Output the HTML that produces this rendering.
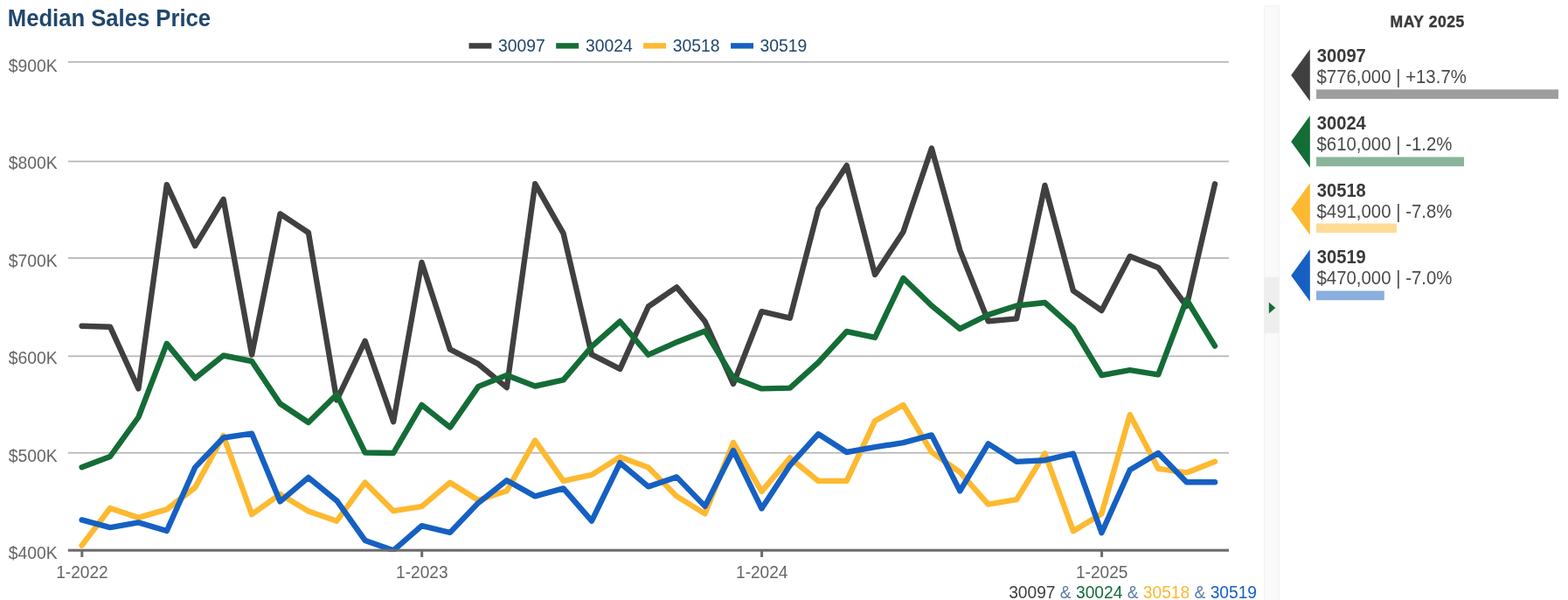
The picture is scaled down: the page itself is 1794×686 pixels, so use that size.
<!DOCTYPE html>
<html lang="en"><head><meta charset="utf-8"><title>Median Sales Price</title>
<style>
html,body{margin:0;padding:0;background:#fff;}
body{width:1794px;height:686px;overflow:hidden;font-family:"Liberation Sans",sans-serif;}
svg{display:block;}
text{font-family:"Liberation Sans",sans-serif;}
.t{font-size:25.65px;font-weight:bold;fill:#21476c;}
.a{font-size:19.35px;fill:#666666;}
.x{font-size:19.1px;fill:#666666;}
.l{font-size:19.35px;fill:#21476c;}
.f{font-size:19.2px;}
.h{font-size:17.6px;font-weight:bold;fill:#3a3a3a;letter-spacing:0.5px;stroke:#3a3a3a;stroke-width:0.35px;}
.n{font-size:20.15px;font-weight:bold;fill:#3a3a3a;}
.v{font-size:20.4px;fill:#4a4a4a;}
.s{fill:none;stroke-width:6.4;stroke-linejoin:round;stroke-linecap:round;}
</style></head><body>
<svg width="1794" height="686" viewBox="0 0 1794 686">
<defs><clipPath id="plot"><rect x="78" y="60" width="1330" height="570.7"/></clipPath></defs>
<text class="t" transform="translate(8.80,29.90) scale(1,1.05)">Median Sales Price</text>
<rect x="78" y="69.95" width="1328" height="1.8" fill="#b9b9b9"/>
<rect x="78" y="183.66" width="1328" height="1.8" fill="#b9b9b9"/>
<rect x="78" y="294.16" width="1328" height="1.8" fill="#b9b9b9"/>
<rect x="78" y="406.36" width="1328" height="1.8" fill="#b9b9b9"/>
<rect x="78" y="516.87" width="1328" height="1.8" fill="#b9b9b9"/>
<text class="a" transform="translate(9.70,81.90) scale(1,1.09)">$900K</text>
<text class="a" transform="translate(9.70,192.80) scale(1,1.09)">$800K</text>
<text class="a" transform="translate(9.70,304.80) scale(1,1.09)">$700K</text>
<text class="a" transform="translate(9.70,415.90) scale(1,1.09)">$600K</text>
<text class="a" transform="translate(9.70,528.00) scale(1,1.09)">$500K</text>
<text class="a" transform="translate(9.70,638.90) scale(1,1.09)">$400K</text>
<g clip-path="url(#plot)">
<polyline class="s" stroke="#404040" points="93.6,372.7 126.0,373.7 158.4,444.4 190.8,211.1 223.2,281.1 255.6,227.8 288.1,405.7 320.5,244.5 352.9,266.0 385.3,457.4 417.7,389.9 450.1,482.3 482.5,300.0 514.9,399.4 547.3,416.2 579.8,443.1 612.2,210.2 644.6,266.9 677.0,405.4 709.4,421.9 741.8,350.5 774.2,328.4 806.6,367.5 839.0,438.9 871.4,356.2 903.8,363.7 936.3,238.7 968.7,189.2 1001.1,314.1 1033.5,264.9 1065.9,169.5 1098.3,286.1 1130.7,367.2 1163.1,364.4 1195.5,212.0 1227.9,332.4 1260.4,355.0 1292.8,293.0 1325.2,306.0 1357.6,350.0 1390.0,210.3"/>
<polyline class="s" stroke="#146c36" points="93.6,534.2 126.0,522.0 158.4,477.0 190.8,392.9 223.2,432.4 255.6,406.5 288.1,413.0 320.5,461.5 352.9,483.0 385.3,450.9 417.7,517.5 450.1,518.0 482.5,462.9 514.9,488.6 547.3,441.9 579.8,429.0 612.2,441.5 644.6,434.4 677.0,396.2 709.4,367.5 741.8,405.7 774.2,391.2 806.6,378.4 839.0,431.9 871.4,444.4 903.8,443.6 936.3,414.4 968.7,379.0 1001.1,385.9 1033.5,318.0 1065.9,349.5 1098.3,375.9 1130.7,359.9 1163.1,349.5 1195.5,346.0 1227.9,374.9 1260.4,429.0 1292.8,423.2 1325.2,428.3 1357.6,342.5 1390.0,395.6"/>
<polyline class="s" stroke="#fdb930" points="93.6,623.6 126.0,581.0 158.4,591.9 190.8,582.4 223.2,557.4 255.6,498.0 288.1,588.1 320.5,565.0 352.9,584.4 385.3,595.7 417.7,551.7 450.1,584.2 482.5,579.1 514.9,551.7 547.3,572.0 579.8,561.2 612.2,503.5 644.6,549.9 677.0,542.9 709.4,522.5 741.8,534.4 774.2,567.4 806.6,587.4 839.0,506.0 871.4,561.9 903.8,523.5 936.3,549.9 968.7,549.9 1001.1,481.2 1033.5,463.0 1065.9,516.9 1098.3,539.9 1130.7,576.6 1163.1,571.1 1195.5,518.4 1227.9,607.2 1260.4,587.4 1292.8,474.2 1325.2,535.8 1357.6,540.4 1390.0,527.8"/>
<polyline class="s" stroke="#1560c2" points="93.6,594.4 126.0,603.1 158.4,597.4 190.8,607.0 223.2,534.4 255.6,500.5 288.1,495.7 320.5,573.4 352.9,545.9 385.3,572.4 417.7,617.9 450.1,629.3 482.5,601.2 514.9,608.9 547.3,574.9 579.8,549.2 612.2,567.4 644.6,558.4 677.0,595.6 709.4,529.2 741.8,556.4 774.2,545.4 806.6,578.9 839.0,515.0 871.4,581.4 903.8,532.0 936.3,496.2 968.7,517.0 1001.1,511.2 1033.5,506.2 1065.9,497.4 1098.3,561.4 1130.7,507.4 1163.1,527.9 1195.5,526.2 1227.9,518.7 1260.4,609.2 1292.8,537.2 1325.2,518.0 1357.6,551.2 1390.0,551.2"/>
</g>
<rect x="77.8" y="627.65" width="1328.2" height="3.05" fill="#6b6b6b"/>
<rect x="92.3" y="629" width="3" height="7.9" fill="#6b6b6b"/>
<text class="x" transform="translate(93.90,660.60) scale(1,1.08)" text-anchor="middle">1-2022</text>
<rect x="481.2" y="629" width="3" height="7.9" fill="#6b6b6b"/>
<text class="x" transform="translate(482.82,660.60) scale(1,1.08)" text-anchor="middle">1-2023</text>
<rect x="870.1" y="629" width="3" height="7.9" fill="#6b6b6b"/>
<text class="x" transform="translate(871.74,660.60) scale(1,1.08)" text-anchor="middle">1-2024</text>
<rect x="1259.1" y="629" width="3" height="7.9" fill="#6b6b6b"/>
<text class="x" transform="translate(1260.66,660.60) scale(1,1.08)" text-anchor="middle">1-2025</text>
<rect x="536.5" y="49.2" width="25.9" height="6.4" fill="#404040"/>
<text class="l" transform="translate(570.00,58.90) scale(1,1.065)">30097</text>
<rect x="636.2" y="49.2" width="25.9" height="6.4" fill="#146c36"/>
<text class="l" transform="translate(670.00,58.90) scale(1,1.065)">30024</text>
<rect x="736.1" y="49.2" width="25.9" height="6.4" fill="#fdb930"/>
<text class="l" transform="translate(769.70,58.90) scale(1,1.065)">30518</text>
<rect x="836.1" y="49.2" width="25.9" height="6.4" fill="#1560c2"/>
<text class="l" transform="translate(869.60,58.90) scale(1,1.065)">30519</text>
<text class="f" transform="translate(1438.0,684.2) scale(1,1.08)" text-anchor="end"><tspan fill="#404040">30097</tspan><tspan fill="#5b7ea3"> &amp; </tspan><tspan fill="#146c36">30024</tspan><tspan fill="#5b7ea3"> &amp; </tspan><tspan fill="#fdb930">30518</tspan><tspan fill="#5b7ea3"> &amp; </tspan><tspan fill="#1560c2">30519</tspan></text>
<rect x="1446.7" y="6.8" width="16.6" height="690" fill="#fafafa" stroke="#f0f0f0" stroke-width="1"/>
<rect x="1446.2" y="316.8" width="17.5" height="64" fill="#eeeeee"/>
<polygon points="1451.8,345.6 1459.3,352.1 1451.8,358.6" fill="#146c36"/>
<text class="h" transform="translate(1633.20,30.60) scale(1,1.0)" text-anchor="middle">MAY 2025</text>
<polygon points="1498.8,56.3 1498.8,115.7 1477.2,86.00" fill="#404040"/>
<text class="n" transform="translate(1506.80,70.50) scale(1,1.06)">30097</text>
<text class="v" transform="translate(1506.45,95.10) scale(1,1.09)">$776,000 | +13.7%</text>
<rect x="1506" y="102.3" width="277.0" height="10.7" fill="#9e9e9e"/>
<polygon points="1498.8,132.3 1498.8,191.7 1477.2,162.00" fill="#146c36"/>
<text class="n" transform="translate(1506.80,148.35) scale(1,1.06)">30024</text>
<text class="v" transform="translate(1506.45,171.85) scale(1,1.09)">$610,000 | -1.2%</text>
<rect x="1506" y="179.5" width="169.0" height="10.7" fill="#8ab59b"/>
<polygon points="1498.8,209.2 1498.8,268.7 1477.2,238.95" fill="#fdb930"/>
<text class="n" transform="translate(1506.80,224.60) scale(1,1.06)">30518</text>
<text class="v" transform="translate(1506.45,249.05) scale(1,1.09)">$491,000 | -7.8%</text>
<rect x="1506" y="255.5" width="91.9" height="10.7" fill="#fedc93"/>
<polygon points="1498.8,285.3 1498.8,344.7 1477.2,315.00" fill="#1560c2"/>
<text class="n" transform="translate(1506.80,301.35) scale(1,1.06)">30519</text>
<text class="v" transform="translate(1506.45,324.85) scale(1,1.09)">$470,000 | -7.0%</text>
<rect x="1506" y="332.5" width="77.8" height="10.7" fill="#8aaedd"/>
</svg>
</body></html>
